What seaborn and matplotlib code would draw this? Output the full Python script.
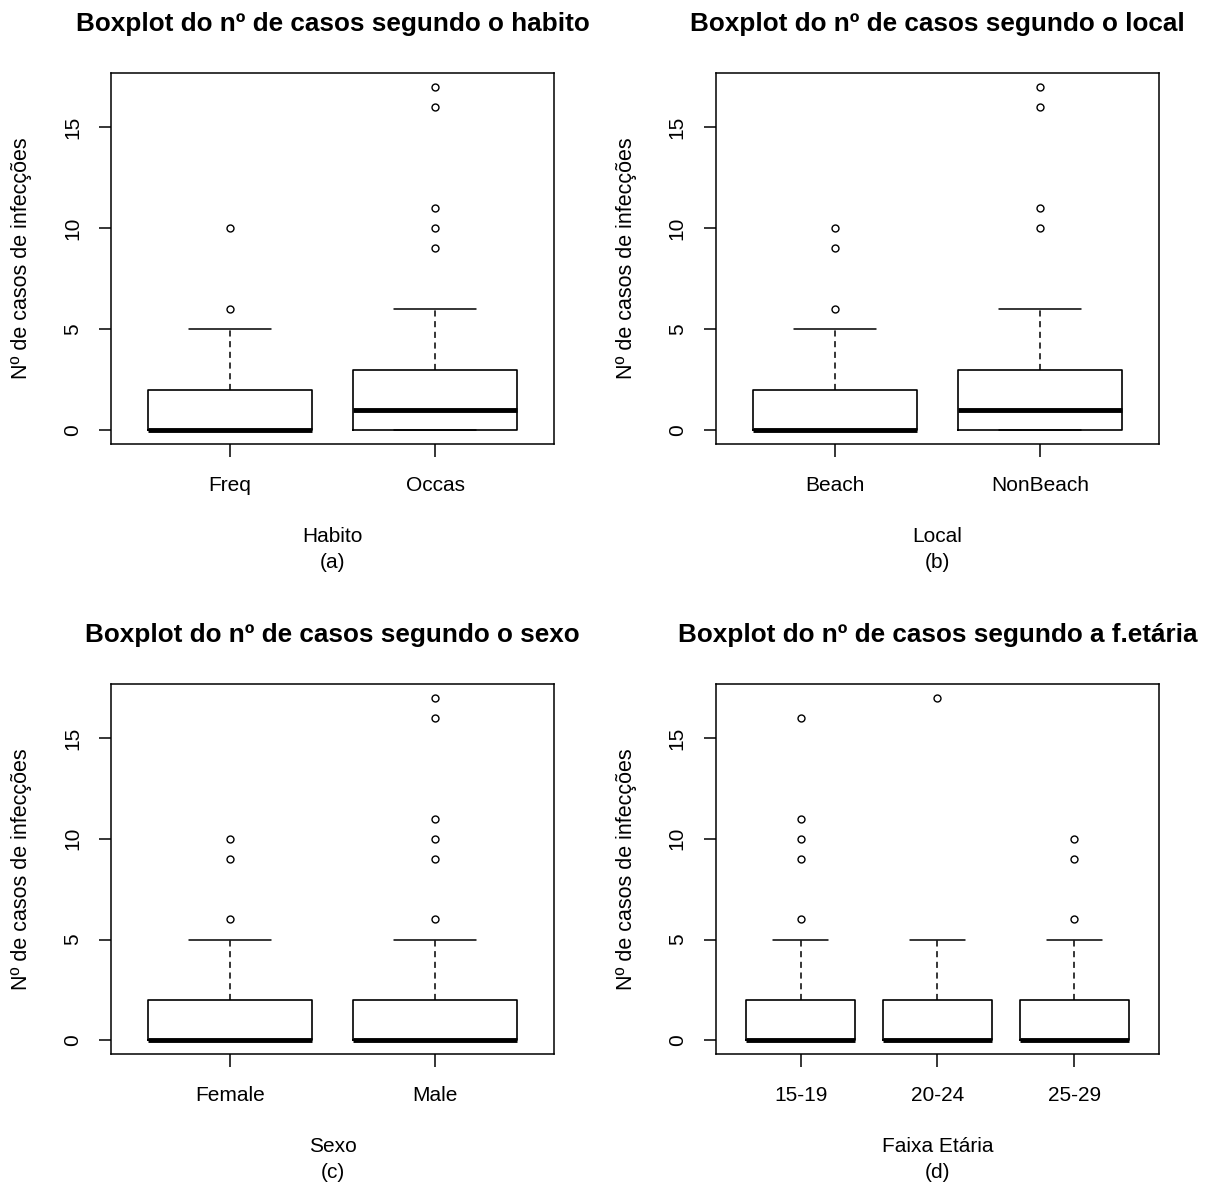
import matplotlib
matplotlib.use("Agg")
import matplotlib.pyplot as plt
import seaborn as sns

# Resumo de cada boxplot (estilo R: q1, mediana, q3, bigodes, outliers)
habito_grupos = ["Freq", "Occas"]
habito_q1 = [0, 0]
habito_med = [0, 1]
habito_q3 = [2, 3]
habito_whislo = [0, 0]
habito_whishi = [5, 6]
habito_out = [[6, 10], [9, 10, 11, 16, 17]]

local_grupos = ["Beach", "NonBeach"]
local_q1 = [0, 0]
local_med = [0, 1]
local_q3 = [2, 3]
local_whislo = [0, 0]
local_whishi = [5, 6]
local_out = [[6, 9, 10], [10, 11, 16, 17]]

sexo_grupos = ["Female", "Male"]
sexo_q1 = [0, 0]
sexo_med = [0, 0]
sexo_q3 = [2, 2]
sexo_whislo = [0, 0]
sexo_whishi = [5, 5]
sexo_out = [[6, 9, 10], [6, 9, 10, 11, 16, 17]]

idade_grupos = ["15-19", "20-24", "25-29"]
idade_q1 = [0, 0, 0]
idade_med = [0, 0, 0]
idade_q3 = [2, 2, 2]
idade_whislo = [0, 0, 0]
idade_whishi = [5, 5, 5]
idade_out = [[6, 9, 10, 11, 16], [17], [6, 9, 10]]

sns.set_theme(style="ticks")
plt.rcParams['font.family'] = ['Liberation Sans', 'DejaVu Sans']
plt.rcParams['axes.edgecolor'] = 'black'
plt.rcParams['axes.linewidth'] = 1.1
plt.rcParams['text.color'] = 'black'
plt.rcParams['axes.labelcolor'] = 'black'
plt.rcParams['axes.titlecolor'] = 'black'


def montar_stats(grupos, q1, med, q3, wlo, whi, out):
    return [dict(label=g, q1=a, med=m, q3=b, whislo=lo, whishi=hi, fliers=f)
            for g, a, m, b, lo, hi, f in zip(grupos, q1, med, q3, wlo, whi, out)]


def desenhar(ax, stats, titulo, xlabel):
    n = len(stats)
    pos = list(range(1, n + 1))
    ax.bxp(stats, positions=pos, widths=0.8, showfliers=True,
           boxprops=dict(color='black', linewidth=1.2),
           medianprops=dict(color='black', linewidth=3.5, solid_capstyle='butt'),
           whiskerprops=dict(color='black', linewidth=1.1, linestyle=(0, (4, 3))),
           capprops=dict(color='black', linewidth=1.1),
           capwidths=0.4,
           flierprops=dict(marker='o', markerfacecolor='none', markeredgecolor='black',
                           markersize=5, markeredgewidth=1.0))
    ext = 0.04 * n
    ax.set_xlim(0.5 - ext, n + 0.5 + ext)
    ax.set_ylim(-0.68, 17.68)
    ax.set_yticks([0, 5, 10, 15])
    ax.set_xticks(pos)
    ax.set_xticklabels([s['label'] for s in stats])
    for lbl in ax.get_yticklabels():
        lbl.set_rotation(90)
        lbl.set_va('center')
    ax.tick_params(axis='both', direction='out', length=9, width=1.1,
                   labelsize=15, colors='black', pad=12)
    ax.tick_params(axis='x', pad=14)
    ax.set_ylabel('Nº de casos de infecções', fontsize=15.5, labelpad=22)
    ax.set_xlabel(xlabel, fontsize=15, labelpad=23, linespacing=1.5)
    ax.set_title(titulo, fontsize=18.8, fontweight='bold', pad=30)
    for sp in ax.spines.values():
        sp.set_visible(True)
        sp.set_color('black')


fig = plt.figure(figsize=(12.07, 11.88), dpi=100)
ax1 = fig.add_axes([0.092, 0.6263, 0.367, 0.3123])
ax2 = fig.add_axes([0.5932, 0.6263, 0.367, 0.3123])
ax3 = fig.add_axes([0.092, 0.1128, 0.367, 0.3114])
ax4 = fig.add_axes([0.5932, 0.1128, 0.367, 0.3114])

desenhar(ax1, montar_stats(habito_grupos, habito_q1, habito_med, habito_q3,
                           habito_whislo, habito_whishi, habito_out),
         'Boxplot do nº de casos segundo o habito', 'Habito\n(a)')
desenhar(ax2, montar_stats(local_grupos, local_q1, local_med, local_q3,
                           local_whislo, local_whishi, local_out),
         'Boxplot do nº de casos segundo o local', 'Local\n(b)')
desenhar(ax3, montar_stats(sexo_grupos, sexo_q1, sexo_med, sexo_q3,
                           sexo_whislo, sexo_whishi, sexo_out),
         'Boxplot do nº de casos segundo o sexo', 'Sexo\n(c)')
desenhar(ax4, montar_stats(idade_grupos, idade_q1, idade_med, idade_q3,
                           idade_whislo, idade_whishi, idade_out),
         'Boxplot do nº de casos segundo a f.etária', 'Faixa Etária\n(d)')

fig.savefig('out.png', dpi=100, facecolor='white')
